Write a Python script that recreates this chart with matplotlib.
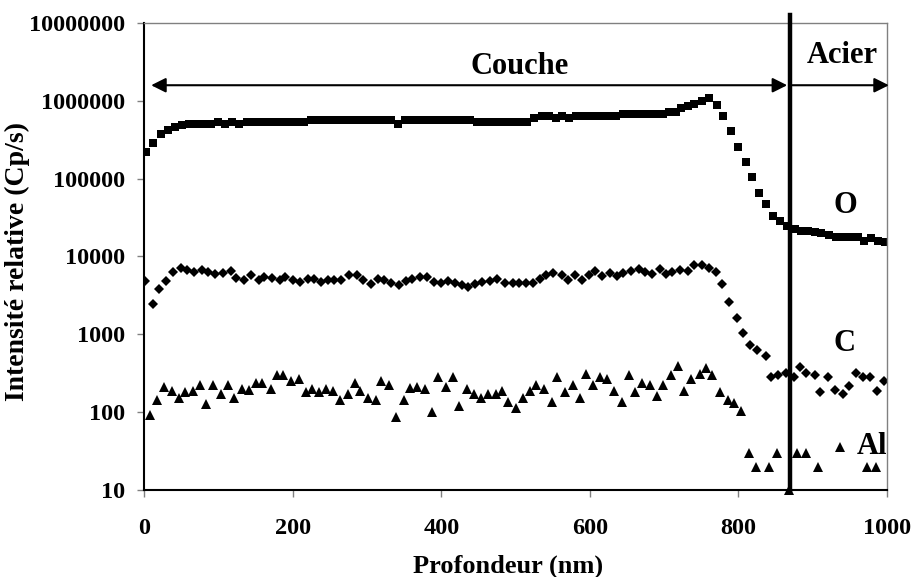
import matplotlib
matplotlib.use("Agg")
import matplotlib.pyplot as plt

plt.rcParams["font.family"] = ["Liberation Serif", "DejaVu Serif"]
plt.rcParams["font.weight"] = "bold"

# profondeur (nm) / intensite (Cp/s)
o_depth = [2, 12, 22, 32, 41, 50, 60, 70, 80, 89, 99, 109, 118, 128, 138, 147, 157, 167,
           177, 186, 196, 206, 215, 225, 235, 244, 254, 264, 274, 283, 293, 303, 312, 322,
           332, 341, 351, 361, 371, 380, 390, 400, 409, 419, 429, 438, 448, 458, 468, 477,
           487, 497, 506, 516, 525, 535, 545, 554, 563, 572, 581, 590, 600, 609, 618, 627,
           636, 645, 654, 663, 672, 681, 690, 698, 707, 716, 723, 732, 741, 751, 761, 771,
           780, 790, 800, 811, 819, 828, 838, 847, 856, 866, 876, 884, 894, 904, 912, 922,
           932, 943, 952, 961, 970, 979, 988, 998]
o_counts = [220000, 290000, 370000, 425000, 455000, 485000, 510000, 510000, 510000, 510000,
            540000, 510000, 540000, 500000, 530000, 530000, 530000, 530000, 530000, 530000,
            530000, 530000, 530000, 565000, 565000, 565000, 565000, 565000, 565000, 565000,
            565000, 565000, 565000, 565000, 565000, 500000, 565000, 565000, 565000, 565000,
            565000, 565000, 565000, 565000, 565000, 565000, 530000, 530000, 530000, 530000,
            530000, 530000, 530000, 530000, 610000, 645000, 640000, 600000, 645000, 600000,
            640000, 640000, 640000, 640000, 640000, 640000, 640000, 675000, 675000, 675000,
            675000, 675000, 675000, 675000, 708000, 708000, 805000, 845000, 906000, 1000000,
            1080000, 890000, 645000, 404000, 257000, 165000, 104000, 66000, 47000, 33600,
            28400, 24300, 22600, 21500, 21500, 20500, 20000, 19100, 18000, 18000, 18000,
            18000, 16000, 17400, 16000, 15200]

c_depth = [1, 11, 20, 29, 39, 49, 57, 67, 77, 86, 95, 106, 116, 123, 134, 143, 154, 161,
           172, 182, 190, 200, 210, 220, 228, 238, 247, 256, 265, 276, 286, 294, 305, 314,
           323, 332, 343, 352, 361, 371, 381, 390, 399, 409, 418, 428, 436, 446, 455, 466,
           475, 486, 496, 505, 514, 524, 533, 541, 551, 562, 571, 580, 589, 599, 607, 616,
           627, 637, 645, 655, 667, 675, 684, 694, 703, 711, 721, 732, 740, 751, 760, 770,
           778, 788, 798, 806, 816, 826, 837, 844, 854, 865, 875, 883, 892, 903, 910, 921,
           930, 941, 949, 959, 968, 977, 987, 997]
c_counts = [4820, 2430, 3780, 4820, 6300, 7170, 6750, 6300, 6750, 6300, 6000, 6100, 6480,
            5340, 5030, 5830, 5030, 5430, 5340, 5030, 5430, 5030, 4690, 5180, 5180, 4690,
            5030, 5030, 5030, 5830, 5830, 5060, 4470, 5180, 4920, 4550, 4250, 4820, 5180,
            5430, 5430, 4690, 4550, 4820, 4550, 4330, 4050, 4470, 4690, 4820, 5180, 4550,
            4550, 4550, 4550, 4550, 5180, 5830, 6100, 5700, 4920, 5830, 5060, 5700, 6430,
            5600, 6100, 5600, 6100, 6480, 6950, 6300, 6000, 6950, 6000, 6300, 6750, 6480,
            7680, 7680, 7200, 6300, 4380, 2600, 1640, 1040, 738, 637, 522, 284, 298, 319,
            284, 381, 319, 298, 179, 284, 195, 170, 215, 319, 284, 284, 187, 252]

al_depth = [8, 17, 26, 37, 47, 55, 65, 75, 83, 93, 103, 112, 121, 131, 141, 150, 159, 170,
            178, 187, 197, 208, 217, 226, 235, 245, 254, 263, 274, 284, 291, 301, 312, 319,
            330, 339, 350, 358, 367, 378, 387, 396, 406, 416, 424, 434, 444, 454, 463, 473,
            482, 490, 500, 510, 520, 528, 538, 549, 556, 566, 577, 587, 595, 604, 614, 623,
            633, 643, 653, 661, 671, 681, 691, 699, 709, 719, 727, 737, 748, 757, 765, 775,
            786, 794, 804, 814, 824, 842, 852, 869, 879, 891, 908, 937, 973, 985]
al_counts = [92, 143, 211, 188, 150, 182, 188, 226, 127, 226, 170, 226, 150, 201, 191, 238,
             238, 201, 298, 298, 252, 265, 179, 201, 179, 201, 188, 143, 170, 238, 188, 150,
             143, 252, 226, 86, 143, 205, 211, 201, 100, 284, 211, 284, 119, 201, 169, 150,
             170, 169, 188, 136, 114, 150, 188, 222, 201, 136, 284, 179, 226, 150, 313, 226,
             279, 265, 188, 136, 298, 179, 238, 226, 162, 226, 298, 393, 188, 265, 313, 374,
             298, 179, 143, 133, 104, 29.5, 19.9, 19.9, 29.5, 10, 29.5, 29.5, 20, 36, 20, 20]

x_ticks = [0, 200, 400, 600, 800, 1000]
y_ticks = [10, 100, 1000, 10000, 100000, 1000000, 10000000]
interface_nm = 870

fig = plt.figure(figsize=(9.15, 5.77), dpi=100)
ax = fig.add_axes([0.1579, 0.1508, 0.8111, 0.8094])

ax.plot(o_depth, o_counts, "s", color="black", ms=5.6, mew=0)
ax.plot(c_depth, c_counts, "D", color="black", ms=5.6, mew=0)
ax.plot(al_depth, al_counts, "^", color="black", ms=7.2, mew=0, clip_on=False)

ax.set_yscale("log")
ax.set_xlim(0, 1000)
ax.set_ylim(10, 1e7)
ax.set_xticks(x_ticks)
ax.set_xticklabels([str(v) for v in x_ticks])
ax.set_yticks(y_ticks)
ax.set_yticklabels([str(v) for v in y_ticks])
ax.minorticks_off()
ax.tick_params(axis="both", direction="out", length=5, width=1, color="#808080",
               labelsize=17.5)
ax.tick_params(axis="x", pad=15)
ax.tick_params(axis="y", pad=9)

for side in ("left", "bottom"):
    ax.spines[side].set_color("black")
    ax.spines[side].set_linewidth(1.5)
for side in ("right", "top"):
    ax.spines[side].set_color("#808080")
    ax.spines[side].set_linewidth(1.0)

# interface couche / acier
ax.plot([interface_nm, interface_nm], [10, 10 ** 7.1], color="black", lw=3.2,
        clip_on=False, zorder=5)

arrow_y = 10 ** 6.2
ax.annotate("", xy=(9, arrow_y), xytext=(866, arrow_y),
            arrowprops=dict(arrowstyle="<|-|>", color="black", lw=1.5,
                            mutation_scale=22, shrinkA=0, shrinkB=0))
ax.annotate("", xy=(1003, arrow_y), xytext=(873, arrow_y), annotation_clip=False,
            arrowprops=dict(arrowstyle="-|>", color="black", lw=1.5,
                            mutation_scale=22, shrinkA=0, shrinkB=0))

ax.text(506, 10 ** 6.44, "Couche", fontsize=22, ha="center", va="center")
ax.text(940, 10 ** 6.58, "Acier", fontsize=22, ha="center", va="center")
ax.text(945, 10 ** 4.65, "O", fontsize=22, ha="center", va="center")
ax.text(943, 10 ** 2.88, "C", fontsize=22, ha="center", va="center")
ax.text(980, 10 ** 1.555, "Al", fontsize=22, ha="center", va="center")

fig.text(508 / 915, 1 - 566 / 577, "Profondeur (nm)", fontsize=19,
         ha="center", va="center")
fig.text(17 / 915, 1 - 262 / 577, "Intensité relative (Cp/s)", fontsize=20,
         ha="center", va="center", rotation=90)

fig.savefig("out.png", dpi=100)
